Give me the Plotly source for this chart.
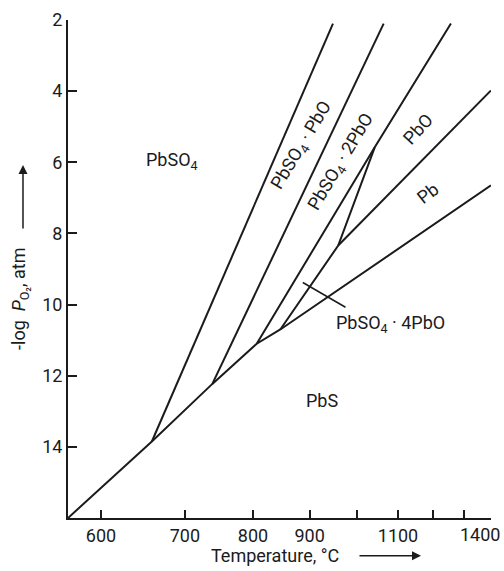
import plotly.graph_objects as go

# Phase boundaries of the Pb-S-O system: temperature (deg C) vs -log pO2 (atm)
pbs_T = [566, 658, 738, 806, 846, 1400]
pbs_y = [16.0, 13.85, 12.23, 11.10, 10.70, 6.65]

sulfate_T = [658, 947]              # PbSO4 | PbSO4.PbO
sulfate_y = [13.85, 2.1]

basic1_T = [738, 1063]              # PbSO4.PbO | PbSO4.2PbO
basic1_y = [12.23, 2.1]

basic2_T = [806, 1041, 1256]        # PbSO4.2PbO | PbSO4.4PbO, PbO
basic2_y = [11.10, 5.58, 2.1]

basic4_T = [846, 958, 1041]         # PbSO4.4PbO | Pb, PbO
basic4_y = [10.70, 8.34, 5.58]

oxide_T = [958, 1400]               # Pb | PbO
oxide_y = [8.34, 3.98]

x_ticks = [600, 700, 800, 900, 1000, 1100, 1200, 1300, 1400]
x_tick_text = ["600", "700", "800", "900", "", "1100", "", "", ""]
x_end_label = "1400"   # drawn flush with the right edge so it is not clipped
y_ticks = [2, 4, 6, 8, 10, 12, 14]

T_MIN, T_MAX = 566, 1400
Y_MIN, Y_MAX = 2, 16

FONT = "Roboto, DejaVu Sans, sans-serif"
INK = "#1b1b1b"
FS = 18


def rx(T):
    """Reciprocal-temperature axis coordinate (increasing with T)."""
    return -1e4 / (T + 273.15)


fig = go.Figure()
for Ts, ys in [(pbs_T, pbs_y), (sulfate_T, sulfate_y), (basic1_T, basic1_y),
               (basic2_T, basic2_y), (basic4_T, basic4_y), (oxide_T, oxide_y)]:
    fig.add_trace(go.Scatter(x=[rx(t) for t in Ts], y=ys, mode="lines",
                             line=dict(color=INK, width=2), hoverinfo="skip",
                             showlegend=False))

# Field labels
labels = [
    ("PbSO<sub>4</sub>", 683, 5.95, 0),
    ("PbSO<sub>4</sub> · PbO", 884, 5.53, -59),
    ("PbSO<sub>4</sub> · 2PbO", 965, 6.0, -59),
    ("PbO", 1156, 5.06, -48),
    ("Pb", 1182, 6.87, -38),
    ("PbSO<sub>4</sub> · 4PbO", 1081, 10.56, 0),
    ("PbS", 925, 12.70, 0),
]
for text, T, y, ang in labels:
    fig.add_annotation(x=rx(T), y=y, text=text, textangle=ang, showarrow=False,
                       xanchor="center", yanchor="middle",
                       font=dict(family=FONT, size=FS, color=INK))

# Leader line to the narrow PbSO4.4PbO field
fig.add_annotation(x=rx(887), y=9.38, ax=rx(977), ay=10.10, axref="x", ayref="y",
                   text="", showarrow=True, arrowhead=0, arrowwidth=1.5,
                   arrowcolor=INK)

# Last temperature tick label
fig.add_annotation(xref="paper", yref="paper", x=1.0255, y=-0.034,
                   xanchor="right", yanchor="middle", text=x_end_label,
                   showarrow=False, font=dict(family=FONT, size=FS, color=INK))

# Axis titles with arrows
fig.add_annotation(xref="paper", yref="paper", x=0.489, y=-0.0743,
                   xanchor="center", yanchor="middle",
                   text="Temperature, °C", showarrow=False,
                   font=dict(family=FONT, size=FS, color=INK))
fig.add_annotation(xref="paper", yref="paper", x=0.8345, y=-0.0757, ax=-63, ay=0,
                   text="", showarrow=True, arrowhead=2, arrowsize=1.2,
                   arrowwidth=1.5, arrowcolor=INK)
fig.add_annotation(xref="paper", yref="paper", x=-0.1135, y=0.4398, textangle=-90,
                   xanchor="center", yanchor="middle",
                   text="-log  <i>P</i><sub>O₂</sub>, atm", showarrow=False,
                   font=dict(family=FONT, size=FS, color=INK))
fig.add_annotation(xref="paper", yref="paper", x=-0.1064, y=0.7088, ax=0, ay=65,
                   text="", showarrow=True, arrowhead=2, arrowsize=1.2,
                   arrowwidth=1.5, arrowcolor=INK)

fig.update_xaxes(range=[rx(T_MIN), rx(T_MAX)], tickvals=[rx(t) for t in x_ticks],
                 ticktext=x_tick_text, ticks="inside", ticklen=8, tickwidth=1.5,
                 tickcolor=INK, showline=True, linecolor=INK, linewidth=2,
                 showgrid=False, zeroline=False, automargin=False,
                 tickfont=dict(family=FONT, size=FS, color=INK))
fig.update_yaxes(range=[Y_MAX, Y_MIN], tickvals=y_ticks, ticks="inside",
                 ticklen=9, tickwidth=1.5, tickcolor=INK, showline=True,
                 linecolor=INK, linewidth=2, showgrid=False, zeroline=False,
                 automargin=False,
                 tickfont=dict(family=FONT, size=FS, color=INK))

fig.update_layout(width=504, height=571, margin=dict(l=68, r=13, t=20, b=53),
                  paper_bgcolor="white", plot_bgcolor="white", showlegend=False)

fig.write_html("out.html")
